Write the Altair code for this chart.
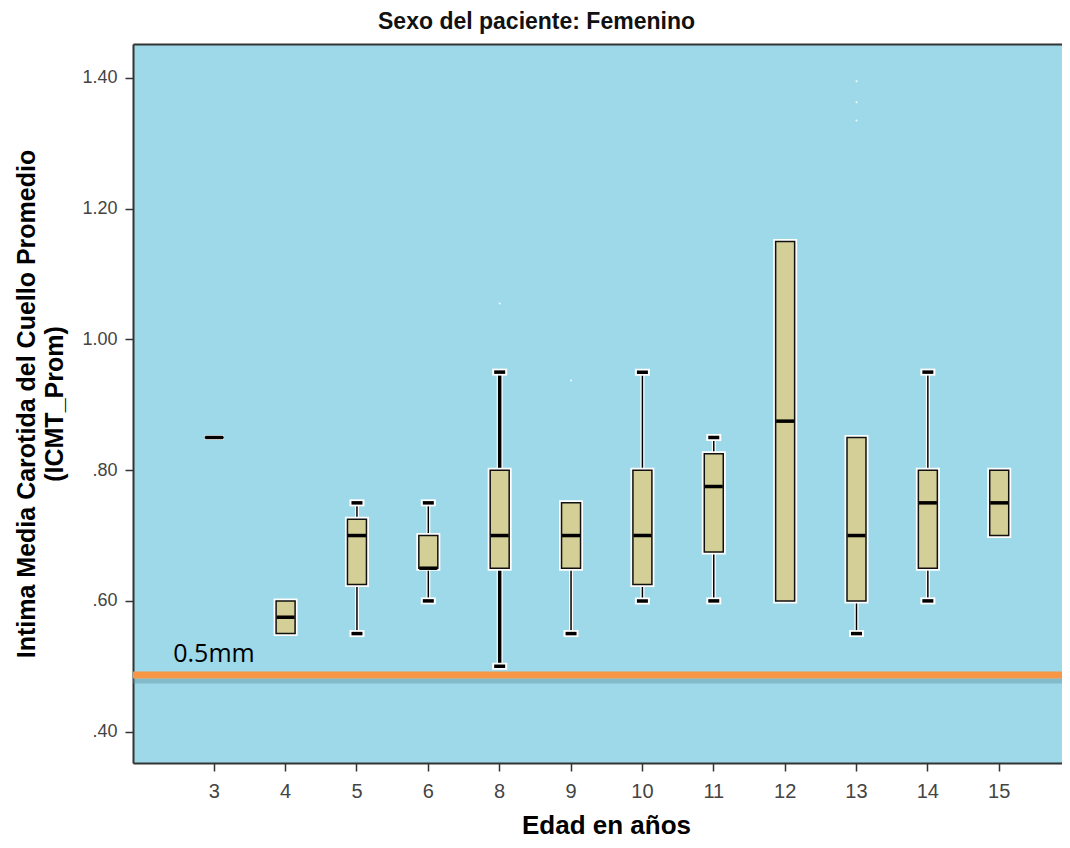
import altair as alt
import pandas as pd

# ---------------- data ----------------
ages = ["3", "4", "5", "6", "8", "9", "10", "11", "12", "13", "14", "15"]
whisker_low = [0.85, 0.55, 0.55, 0.60, 0.50, 0.55, 0.60, 0.60, 0.60, 0.55, 0.60, 0.70]
q1 = [0.85, 0.55, 0.625, 0.65, 0.65, 0.65, 0.625, 0.675, 0.60, 0.60, 0.65, 0.70]
median = [0.85, 0.575, 0.70, 0.65, 0.70, 0.70, 0.70, 0.775, 0.875, 0.70, 0.75, 0.75]
q3 = [0.85, 0.60, 0.725, 0.70, 0.80, 0.75, 0.80, 0.825, 1.15, 0.85, 0.80, 0.80]
whisker_high = [0.85, 0.60, 0.75, 0.75, 0.95, 0.75, 0.95, 0.85, 1.15, 0.85, 0.95, 0.80]

outlier_age = ["8", "9", "13", "13", "13"]
outlier_value = [1.055, 0.937, 1.395, 1.363, 1.335]

threshold = [0.4865]
threshold_label = ["0.5mm"]
threshold_anchor = ["3"]

y_ticks = [0.40, 0.60, 0.80, 1.00, 1.20, 1.40]
y_domain = [0.352, 1.452]

title_text = "Sexo del paciente: Femenino"
x_title = "Edad en años"
y_title = ["Intima Media Carotida del Cuello Promedio", "(ICMT_Prom)"]

# ---------------- tables ----------------
boxes = pd.DataFrame(dict(age=ages, lo=whisker_low, q1=q1, med=median, q3=q3, hi=whisker_high))
cap_rows = [{"age": a, "v": h} for a, h, t in zip(ages, whisker_high, q3) if h > t]
cap_rows += [{"age": a, "v": l} for a, l, b in zip(ages, whisker_low, q1) if l < b]
caps = pd.DataFrame(cap_rows)
outliers = pd.DataFrame(dict(age=outlier_age, v=outlier_value))
ref = pd.DataFrame(dict(v=threshold, label=threshold_label, age=threshold_anchor))

FONT = "Liberation Sans"
BG = "#9DD9E9"
BOX = "#D4CF96"
ORANGE = "#F79646"

W, H = 929, 719

xscale = alt.Scale(domain=ages, paddingInner=0, paddingOuter=0.509, align=0.627)
yscale = alt.Scale(domain=y_domain, nice=False, zero=False)

y_axis = alt.Axis(
    values=y_ticks,
    labelExpr="datum.value < 1 ? slice(format(datum.value, '.2f'), 1) : format(datum.value, '.2f')",
    grid=False, tickSize=8, tickColor="#333", tickWidth=1.5,
    domainColor="#333", domainWidth=2,
    labelFont=FONT, labelFontSize=18, labelColor="#444", labelPadding=8,
    title=y_title, titleFont=FONT, titleFontSize=25, titleFontWeight="bold",
    titleColor="#000", titlePadding=14, titleLineHeight=28,
)
x_axis = alt.Axis(
    labelAngle=0, grid=False, tickSize=8, tickColor="#333", tickWidth=1.5,
    domainColor="#333", domainWidth=2,
    labelFont=FONT, labelFontSize=20, labelColor="#444", labelPadding=10,
    title=x_title, titleFont=FONT, titleFontSize=26, titleFontWeight="bold",
    titleColor="#000", titlePadding=11, titleX=473,
)
top_axis = alt.Axis(orient="top", labels=False, ticks=False, title=None, grid=False,
                    domainColor="#333", domainWidth=2)


def X(axis=None):
    return alt.X("age:N", scale=xscale, sort=ages, axis=axis)


def Yf(field):
    return alt.Y(f"{field}:Q", scale=yscale, axis=y_axis)


base = alt.Chart(boxes)

shadow = alt.Chart(ref).mark_rule(color="#5E8E9C", strokeWidth=5, opacity=0.4, yOffset=6).encode(y=Yf("v"))
orange = alt.Chart(ref).mark_rule(color=ORANGE, strokeWidth=7).encode(y=Yf("v"))
label = alt.Chart(ref).mark_text(
    font="Open Sans", fontSize=25, color="#000", align="left", baseline="alphabetic", dx=-41, dy=-13
).encode(x=X(), y=Yf("v"), text="label:N")

thick = alt.datum.age == "8"
wh_halo = base.mark_rule(color="white").encode(
    x=X(x_axis), y=Yf("lo"), y2="hi:Q",
    strokeWidth=alt.condition(thick, alt.value(6), alt.value(4)),
)
wh = base.mark_rule(color="#000").encode(
    x=X(), y=Yf("lo"), y2="hi:Q",
    strokeWidth=alt.condition(thick, alt.value(3.5), alt.value(1.5)),
)
cap_halo = alt.Chart(caps).mark_tick(color="white", size=15, thickness=7, opacity=1).encode(x=X(), y=Yf("v"))
cap = alt.Chart(caps).mark_tick(color="#000", size=11, thickness=3.5, opacity=1).encode(x=X(), y=Yf("v"))

box_halo = base.mark_bar(size=19, fill=BOX, stroke="white", strokeWidth=5).encode(x=X(), y=Yf("q1"), y2="q3:Q")
box = base.mark_bar(size=19, fill=BOX, stroke="#111", strokeWidth=1.5).encode(x=X(), y=Yf("q1"), y2="q3:Q")
med = base.mark_tick(color="#000", size=18, thickness=3.5, opacity=1).encode(x=X(), y=Yf("med"))

outl = alt.Chart(outliers).mark_point(filled=True, color="white", size=4, opacity=0.9).encode(x=X(), y=Yf("v"))

border = base.mark_point(opacity=0).encode(x=X(top_axis), y=Yf("med"))

chart = alt.layer(
    shadow, orange, label, wh_halo, wh, cap_halo, cap, box_halo, box, med, outl, border
).resolve_axis(x="independent").properties(
    width=W, height=H,
    autosize=alt.AutoSizeParams(type="none"),
    padding={"left": 125, "top": 36, "right": 0, "bottom": 76},
    view=alt.ViewBackground(fill=BG, stroke="transparent"),
    title=alt.TitleParams(title_text, font=FONT, fontSize=23, fontWeight="bold",
                          color="#111", anchor="middle", dx=-61, offset=10),
).configure_view(fill=BG, stroke="transparent").configure(background="white")

chart.save("out.html", embed_options={"renderer": "svg", "actions": False})
